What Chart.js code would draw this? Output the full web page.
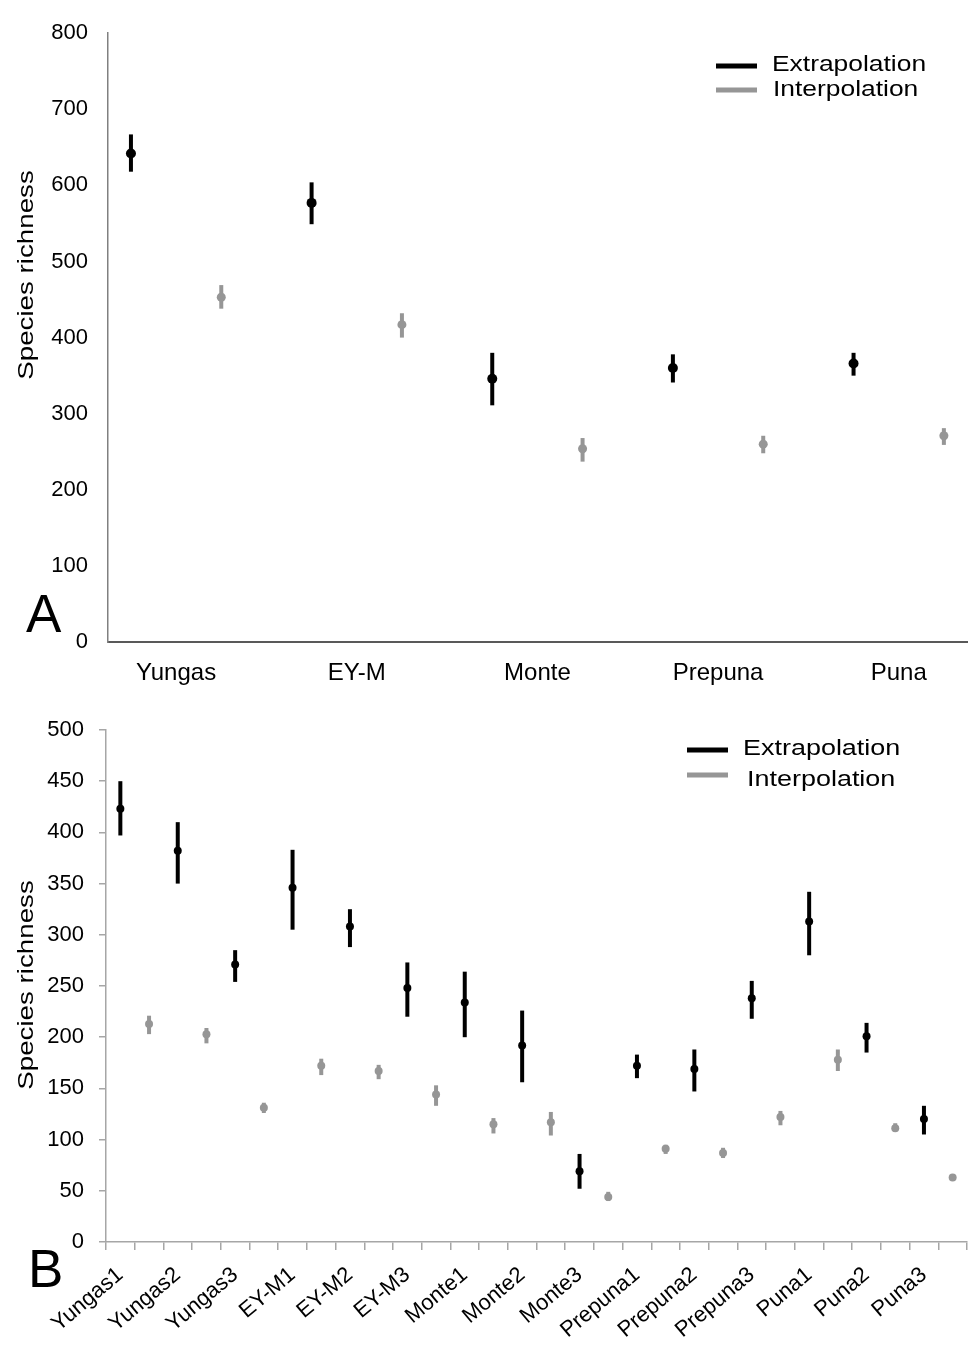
<!DOCTYPE html>
<html>
<head>
<meta charset="utf-8">
<script src="https://cdn.jsdelivr.net/npm/chart.js@4.4.1/dist/chart.umd.min.js"></script>
<style>
  html, body { margin: 0; padding: 0; background: #fff; }
  #wrapA { position: absolute; left: 0; top: 0; width: 972px; height: 700px; }
  #wrapB { position: absolute; left: 0; top: 700px; width: 972px; height: 646px; }
</style>
</head>
<body>
<div id="wrapA"><canvas id="chartA"></canvas></div>
<div id="wrapB"><canvas id="chartB"></canvas></div>
<script>
const FONT = "'Liberation Sans', Arial, sans-serif";
const BLACK = '#000000';
const GREY = '#969696';

// panel A: regions
const regions = ['Yungas', 'EY-M', 'Monte', 'Prepuna', 'Puna'];
const extrapA = [642, 577, 346, 360, 366];
const extrapALow = [618, 549, 311, 341, 350];
const extrapAHigh = [667, 604, 380, 378, 380];
const interpA = [453, 417, 254, 260, 271];
const interpALow = [438, 400, 237, 248, 259];
const interpAHigh = [469, 432, 268, 271, 281];

// panel B: sites
const sites = ['Yungas1', 'Yungas2', 'Yungas3', 'EY-M1', 'EY-M2', 'EY-M3', 'Monte1', 'Monte2', 'Monte3',
  'Prepuna1', 'Prepuna2', 'Prepuna3', 'Puna1', 'Puna2', 'Puna3'];
const extrapB = [423, 382, 271, 346, 308, 248, 234, 192, 69, 172, 169, 238, 313, 201, 120];
const extrapBLow = [397, 350, 254, 305, 288, 220, 200, 156, 52, 160, 147, 218, 280, 185, 105];
const extrapBHigh = [450, 410, 285, 383, 325, 273, 264, 226, 86, 183, 188, 255, 342, 214, 133];
const interpB = [213, 203, 131, 172, 167, 144, 115, 117, 44, 91, 87, 122, 178, 111, 63];
const interpBLow = [203, 194, 126, 163, 159, 133, 106, 104, 40, 86, 82, 114, 167, 108, 60];
const interpBHigh = [221, 209, 136, 179, 173, 153, 121, 127, 49, 95, 92, 128, 188, 116, 66];

// vertical error bars, drawn under the points
const errorBars = {
  id: 'errorBars',
  beforeDatasetsDraw(chart) {
    const ctx = chart.ctx;
    const y = chart.scales.y;
    chart.data.datasets.forEach((ds, i) => {
      const meta = chart.getDatasetMeta(i);
      ctx.save();
      ctx.strokeStyle = ds.borderColor;
      ctx.lineWidth = ds.errWidth;
      meta.data.forEach((pt, j) => {
        if (ds.errLow[j] == null) return;
        ctx.beginPath();
        ctx.moveTo(pt.x, y.getPixelForValue(ds.errLow[j]));
        ctx.lineTo(pt.x, y.getPixelForValue(ds.errHigh[j]));
        ctx.stroke();
      });
      ctx.restore();
    });
  }
};

// text a bit wider than plain Arial, like the original figure
function wideText(ctx, text, x, y, sx) {
  ctx.save();
  ctx.translate(x, y);
  ctx.scale(sx, 1);
  ctx.fillText(text, 0, 0);
  ctx.restore();
}

// panel letter, y title and legend
const deco = {
  id: 'deco',
  afterDraw(chart, args, o) {
    const ctx = chart.ctx;
    ctx.save();
    ctx.fillStyle = '#000';
    ctx.textBaseline = 'alphabetic';
    ctx.font = '53px ' + FONT;
    ctx.fillText(o.letter, o.letterX, o.letterY);

    ctx.save();
    ctx.translate(o.titleX, o.titleY);
    ctx.rotate(-Math.PI / 2);
    ctx.font = '22px ' + FONT;
    ctx.textAlign = 'center';
    wideText(ctx, 'Species richness', 0, 0, 1.26);
    ctx.restore();

    ctx.font = '22px ' + FONT;
    chart.data.datasets.forEach((ds, i) => {
      ctx.strokeStyle = ds.borderColor;
      ctx.lineWidth = 5;
      ctx.beginPath();
      ctx.moveTo(o.legendX, o.lineY[i]);
      ctx.lineTo(o.legendX + 41, o.lineY[i]);
      ctx.stroke();
      wideText(ctx, ds.label, o.textX[i], o.textY[i], o.textStretch);
    });
    ctx.restore();
  }
};

function pairDataset(label, color, data, lo, hi, radius) {
  return {
    label: label,
    data: data,
    errLow: lo,
    errHigh: hi,
    errWidth: 4,
    borderColor: color,
    backgroundColor: color,
    pointBackgroundColor: color,
    pointBorderWidth: 0,
    pointRadius: radius,
    showLine: false
  };
}

// ---- panel A ----
new Chart(document.getElementById('chartA'), {
  type: 'scatter',
  data: {
    datasets: [
      pairDataset('Extrapolation', BLACK, regions.map((r, i) => ({ x: i - 0.25, y: extrapA[i] })), extrapALow, extrapAHigh, 5),
      pairDataset('Interpolation', GREY, regions.map((r, i) => ({ x: i + 0.25, y: interpA[i] })), interpALow, interpAHigh, 4.5)
    ]
  },
  options: {
    responsive: true,
    maintainAspectRatio: false,
    animation: false,
    layout: { padding: { top: 20, right: 0, left: 0, bottom: 0 } },
    plugins: {
      legend: { display: false },
      tooltip: { enabled: false },
      deco: {
        letter: 'A', letterX: 26, letterY: 632,
        titleX: 33, titleY: 275,
        legendX: 716, lineY: [66, 90], textX: [772, 773], textY: [71, 96], textStretch: 1.2
      }
    },
    scales: {
      x: {
        type: 'linear',
        min: -0.377,
        max: 4.378,
        afterBuildTicks: s => { s.ticks = regions.map((r, i) => ({ value: i })); },
        afterFit: s => { s.height = 58; s.paddingLeft = 0; s.paddingRight = 0; },
        grid: { display: false, drawTicks: false },
        border: { color: '#595959', width: 2 },
        ticks: { callback: v => regions[v], font: { family: FONT, size: 24 }, color: '#000', padding: 17, maxRotation: 0, autoSkip: false }
      },
      y: {
        min: 0,
        max: 800,
        afterFit: s => { s.width = 108; },
        grid: { display: false, drawTicks: false },
        border: { color: '#808080', width: 1.5 },
        ticks: { stepSize: 100, font: { family: FONT, size: 22 }, color: '#000', padding: 20 }
      }
    }
  },
  plugins: [errorBars, deco]
});

// ---- panel B ----
// one slot per value: site (extrapolation) then its interpolation slot
const slotLabels = sites.flatMap(s => [s, '']);
const pad = (vals, first) => vals.flatMap(v => first ? [v, null] : [null, v]);

new Chart(document.getElementById('chartB'), {
  type: 'line',
  data: {
    labels: slotLabels,
    datasets: [
      pairDataset('Extrapolation', BLACK, pad(extrapB, true), pad(extrapBLow, true), pad(extrapBHigh, true), 4),
      pairDataset('Interpolation', GREY, pad(interpB, false), pad(interpBLow, false), pad(interpBHigh, false), 4)
    ]
  },
  options: {
    responsive: true,
    maintainAspectRatio: false,
    animation: false,
    layout: { padding: { top: 30, right: 5, left: 0, bottom: 0 } },
    plugins: {
      legend: { display: false },
      tooltip: { enabled: false },
      deco: {
        letter: 'B', letterX: 28, letterY: 587,
        titleX: 33, titleY: 285,
        legendX: 687, lineY: [50, 75], textX: [743, 747], textY: [55, 86], textStretch: 1.225
      }
    },
    scales: {
      x: {
        type: 'category',
        offset: true,
        afterFit: s => { s.height = 104; s.paddingLeft = 0; s.paddingRight = 0; },
        grid: { offset: true, drawOnChartArea: false, tickLength: 8, color: '#a6a6a6', lineWidth: 1.5 },
        border: { color: '#a6a6a6', width: 1.5 },
        ticks: { autoSkip: false, minRotation: 40, maxRotation: 40, font: { family: FONT, size: 22 }, color: '#000', padding: 12 }
      },
      y: {
        min: 0,
        max: 500,
        afterFit: s => { s.width = 106; },
        grid: { drawOnChartArea: false, tickLength: 7, color: '#a6a6a6', lineWidth: 1.5 },
        border: { color: '#a6a6a6', width: 1.5 },
        ticks: { stepSize: 50, font: { family: FONT, size: 22 }, color: '#000', padding: 15 }
      }
    }
  },
  plugins: [errorBars, deco]
});
</script>
</body>
</html>
